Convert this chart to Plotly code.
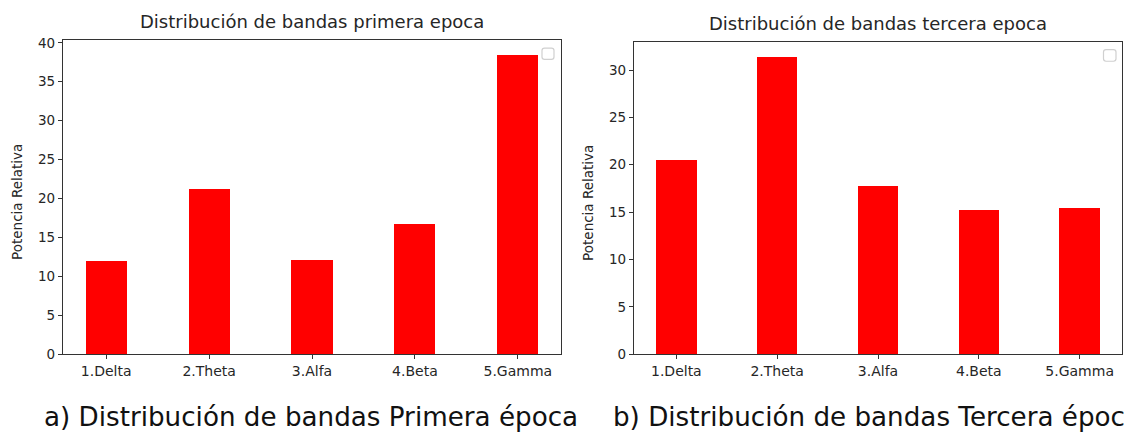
import plotly.graph_objects as go

# Band labels and relative power per epoch
bandas = ["1.Delta", "2.Theta", "3.Alfa", "4.Beta", "5.Gamma"]
potencia_primera = [11.95, 21.25, 12.15, 16.8, 38.45]
potencia_tercera = [20.5, 31.4, 17.8, 15.2, 15.5]

titulo_primera = "Distribución de bandas primera epoca"
titulo_tercera = "Distribución de bandas tercera epoca"
caption_a = "a) Distribución de bandas Primera época"
caption_b = "b) Distribución de bandas Tercera époc"
y_label = "Potencia Relativa"

W, H = 1126, 434
BAR_COLOR = "#ff0000"
AX_COLOR = "#333333"
TXT_COLOR = "#262626"
FONT = "DejaVu Sans"


def px_x(v):
    return v / W


def px_y(v):
    return 1 - v / H


# panel boxes in pixels: (left, right, top, bottom)
panels = [
    (63, 561, 36, 360, potencia_primera, titulo_primera, [0, 5, 10, 15, 20, 25, 30, 35, 40]),
    (634, 1122, 38, 360, potencia_tercera, titulo_tercera, [0, 5, 10, 15, 20, 25, 30]),
]

fig = go.Figure()
annotations = []
shapes = []

for i, (l, r, t, b, vals, title, yticks) in enumerate(panels, start=1):
    xa = "x" if i == 1 else f"x{i}"
    ya = "y" if i == 1 else f"y{i}"
    fig.add_trace(go.Bar(
        x=bandas, y=vals, width=0.4,
        marker=dict(color=BAR_COLOR, line=dict(width=0)),
        xaxis=xa, yaxis=ya, showlegend=False,
    ))
    ymax = max(vals) * 1.05
    axis_common = dict(
        showline=True, linecolor=AX_COLOR, linewidth=1.2, mirror=True,
        ticks="outside", ticklen=4, tickcolor=AX_COLOR, tickwidth=1,
        showgrid=False, zeroline=False,
    )
    fig.update_layout(**{
        ("xaxis" if i == 1 else f"xaxis{i}"): dict(
            domain=[px_x(l), px_x(r)], anchor=ya, type="category",
            range=[-0.42, 4.42],
            tickfont=dict(family=FONT, size=14, color=TXT_COLOR),
            **axis_common,
        ),
        ("yaxis" if i == 1 else f"yaxis{i}"): dict(
            domain=[px_y(b), px_y(t)], anchor=xa,
            range=[0, ymax], tickvals=yticks,
            tickfont=dict(family=FONT, size=13.5, color=TXT_COLOR),
            **axis_common,
        ),
    })
    # subplot title
    annotations.append(dict(
        text=title, x=px_x((l + r) / 2), y=px_y(t), xref="paper", yref="paper",
        xanchor="center", yanchor="bottom", yshift=6, showarrow=False,
        font=dict(family=FONT, size=18, color=TXT_COLOR),
    ))
    # y-axis label
    annotations.append(dict(
        text=y_label, x=px_x(l - 46), y=px_y((t + b) / 2 + 5), xref="paper", yref="paper",
        xanchor="center", yanchor="middle", textangle=-90, showarrow=False,
        font=dict(family=FONT, size=13.5, color=TXT_COLOR),
    ))


# empty legend frames (rounded boxes in the upper-right corner of each panel)
def rounded_box(x0, y0, x1, y1, rad=2.5):
    X = lambda v: px_x(v)
    Y = lambda v: px_y(v)
    rx, ry = rad / W, rad / H
    return (f"M {X(x0)+rx} {Y(y0)} L {X(x1)-rx} {Y(y0)} Q {X(x1)} {Y(y0)} {X(x1)} {Y(y0)-ry} "
            f"L {X(x1)} {Y(y1)+ry} Q {X(x1)} {Y(y1)} {X(x1)-rx} {Y(y1)} "
            f"L {X(x0)+rx} {Y(y1)} Q {X(x0)} {Y(y1)} {X(x0)} {Y(y1)+ry} "
            f"L {X(x0)} {Y(y0)-ry} Q {X(x0)} {Y(y0)} {X(x0)+rx} {Y(y0)} Z")


for (x0, y0, x1, y1) in [(542, 44.5, 554, 56), (1103.5, 46, 1116, 58)]:
    shapes.append(dict(type="path", path=rounded_box(x0, y0, x1, y1),
                       xref="paper", yref="paper",
                       line=dict(color="#d0d0d0", width=1.2), fillcolor="white"))

# figure captions
for txt, x0 in [(caption_a, 42), (caption_b, 611)]:
    annotations.append(dict(
        text=txt, x=px_x(x0), y=px_y(425), xref="paper", yref="paper",
        xanchor="left", yanchor="middle", showarrow=False,
        font=dict(family="DejaVu Sans", size=26.2, color="#111111"),
    ))

fig.update_layout(
    width=W, height=H, margin=dict(l=0, r=0, t=0, b=0),
    paper_bgcolor="white", plot_bgcolor="white",
    annotations=annotations, shapes=shapes, bargap=0,
)

fig.write_html("out.html")
